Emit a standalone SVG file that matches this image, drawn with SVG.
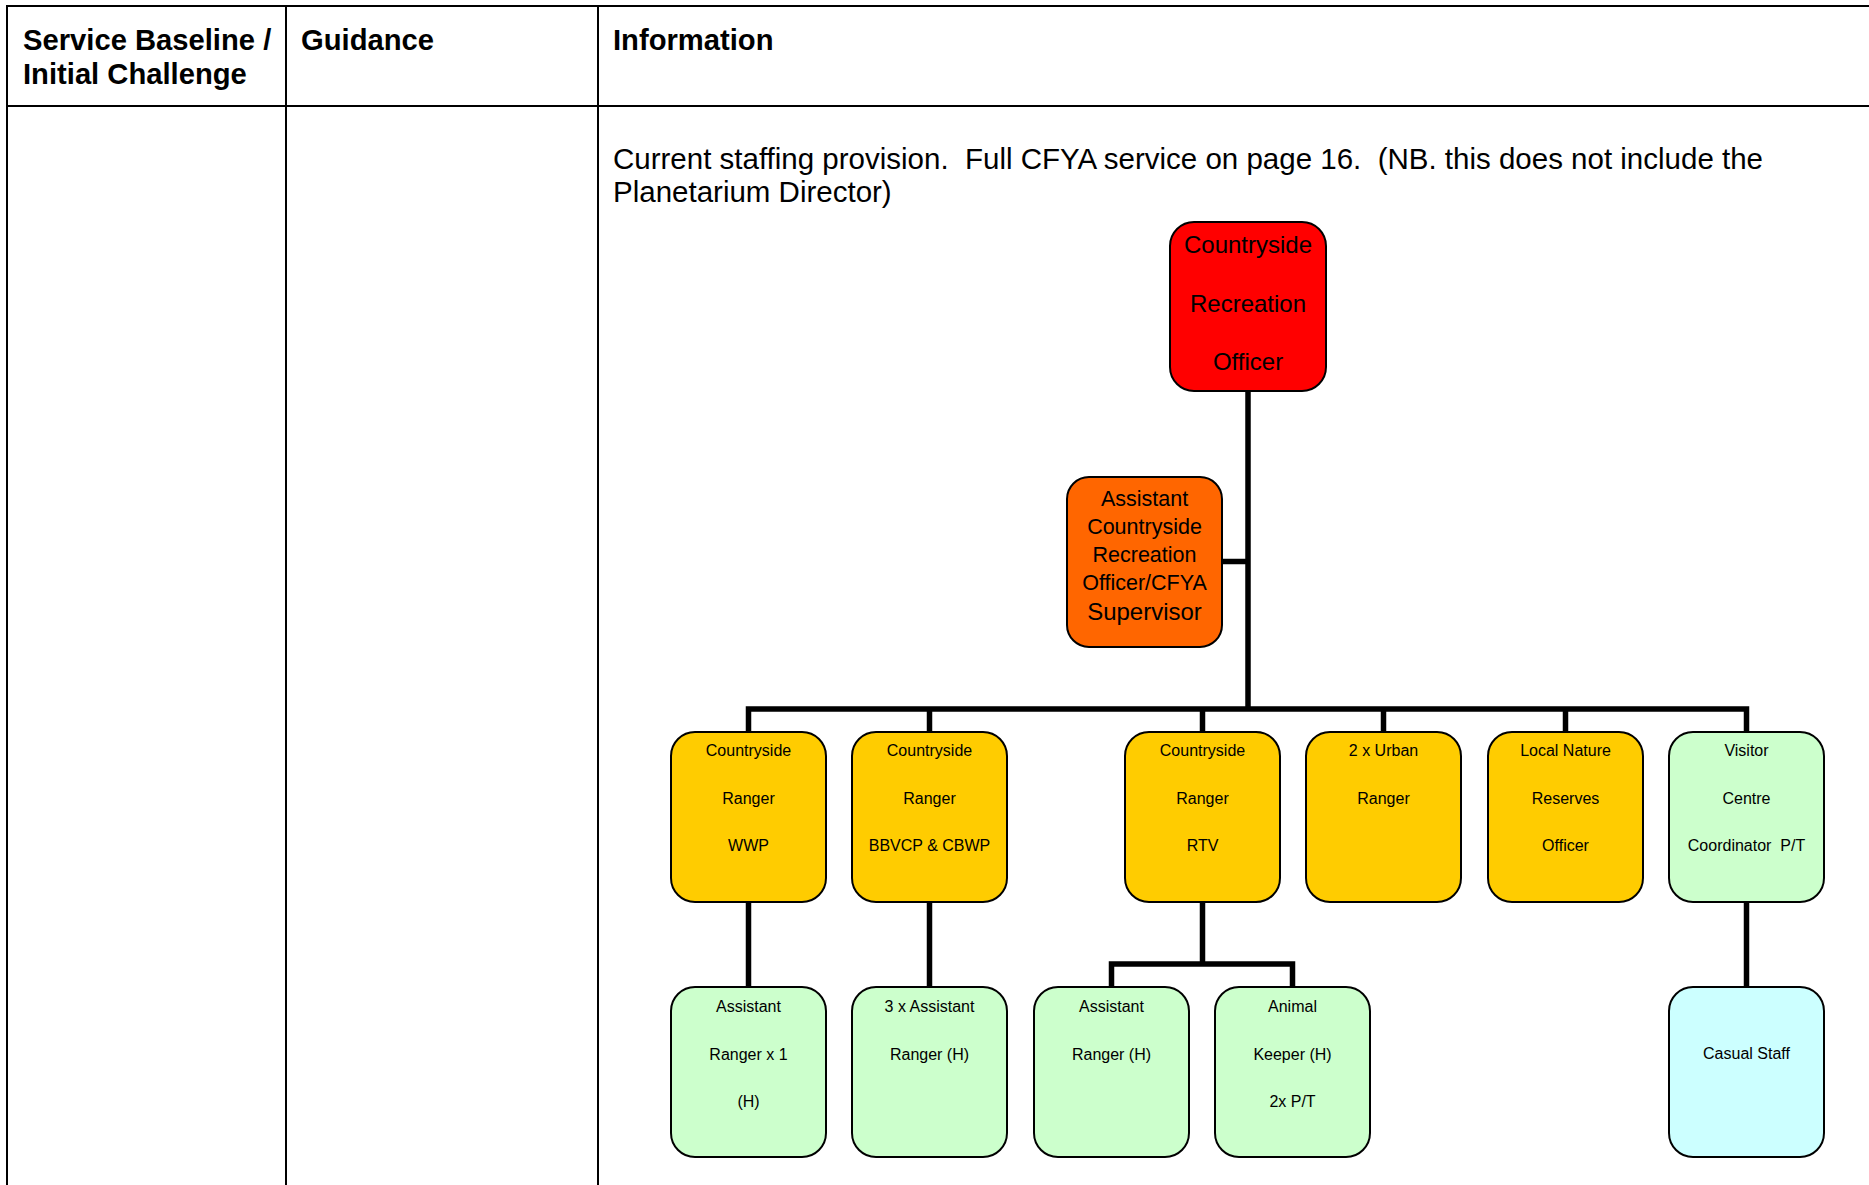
<svg xmlns="http://www.w3.org/2000/svg" width="1869" height="1185" viewBox="0 0 1869 1185">
<style>
.tbl{stroke:#000;stroke-width:2;fill:none}
.hdr{font-family:"Liberation Sans",Arial,sans-serif;font-weight:bold;font-size:29.2px;fill:#000}
.info{font-family:"Liberation Sans",Arial,sans-serif;font-size:29.5px;fill:#000;white-space:pre}
.box{stroke:#000;stroke-width:2}
.red{fill:#FF0000}
.orange{fill:#FF6600}
.yellow{fill:#FFCC00}
.green{fill:#CCFFCC}
.cyan{fill:#CCFFFF}
.t24{font-family:"Liberation Sans",Arial,sans-serif;font-size:24px;fill:#000;text-anchor:middle}
.t21{font-family:"Liberation Sans",Arial,sans-serif;font-size:21.5px;fill:#000;text-anchor:middle}
.t16{font-family:"Liberation Sans",Arial,sans-serif;font-size:16px;fill:#000;text-anchor:middle;white-space:pre}
.conn{stroke:#000;stroke-width:5.5;fill:none;stroke-linejoin:miter;stroke-linecap:butt}
</style>
<rect x="0" y="0" width="1869" height="1185" fill="#fff"/>
<g id="table">
<line class="tbl" x1="7" y1="6" x2="1869" y2="6"/>
<line class="tbl" x1="7" y1="5" x2="7" y2="1185"/>
<line class="tbl" x1="286" y1="6" x2="286" y2="1185"/>
<line class="tbl" x1="598" y1="6" x2="598" y2="1185"/>
<line class="tbl" x1="7" y1="106" x2="1869" y2="106"/>
<text class="hdr" x="23" y="50">Service Baseline /</text>
<text class="hdr" x="23" y="84">Initial Challenge</text>
<text class="hdr" x="301" y="50">Guidance</text>
<text class="hdr" x="613" y="50">Information</text>
<text class="info" x="613" y="169">Current staffing provision.  Full CFYA service on page 16.  (NB. this does not include the</text>
<text class="info" x="613" y="202">Planetarium Director)</text>
</g>
<g id="connectors">
<path class="conn" d="M1248 391 V709"/>
<path class="conn" d="M1222 561.5 H1248"/>
<path class="conn" d="M748.5 732 V709 H1746.5 V732"/>
<path class="conn" d="M929.5 709 V732"/>
<path class="conn" d="M1202.5 709 V732"/>
<path class="conn" d="M1383.5 709 V732"/>
<path class="conn" d="M1565.5 709 V732"/>
<path class="conn" d="M748.5 902 V987"/>
<path class="conn" d="M929.5 902 V987"/>
<path class="conn" d="M1746.5 902 V987"/>
<path class="conn" d="M1202.5 902 V964"/>
<path class="conn" d="M1111.5 987 V964 H1292.5 V987"/>
</g>
<g id="n-cro">
<rect class="box red" x="1170" y="222" width="156" height="169" rx="24"/>
<text class="t24" x="1248" y="253">Countryside</text>
<text class="t24" x="1248" y="312">Recreation</text>
<text class="t24" x="1248" y="370">Officer</text>
</g>
<g id="n-acro">
<rect class="box orange" x="1067" y="477" width="155" height="170" rx="22"/>
<text class="t21" x="1144.5" y="506">Assistant</text>
<text class="t21" x="1144.5" y="534">Countryside</text>
<text class="t21" x="1144.5" y="562">Recreation</text>
<text class="t21" x="1144.5" y="590">Officer/CFYA</text>
<text class="t24" x="1144.5" y="620">Supervisor</text>
</g>
<g id="n-cr-wwp">
<rect class="box yellow" x="671" y="732" width="155" height="170" rx="24"/>
<text class="t16" x="748.5" y="756">Countryside</text>
<text class="t16" x="748.5" y="804">Ranger</text>
<text class="t16" x="748.5" y="851">WWP</text>
</g>
<g id="n-cr-bbvcp">
<rect class="box yellow" x="852" y="732" width="155" height="170" rx="24"/>
<text class="t16" x="929.5" y="756">Countryside</text>
<text class="t16" x="929.5" y="804">Ranger</text>
<text class="t16" x="929.5" y="851">BBVCP &amp; CBWP</text>
</g>
<g id="n-cr-rtv">
<rect class="box yellow" x="1125" y="732" width="155" height="170" rx="24"/>
<text class="t16" x="1202.5" y="756">Countryside</text>
<text class="t16" x="1202.5" y="804">Ranger</text>
<text class="t16" x="1202.5" y="851">RTV</text>
</g>
<g id="n-urban">
<rect class="box yellow" x="1306" y="732" width="155" height="170" rx="24"/>
<text class="t16" x="1383.5" y="756">2 x Urban</text>
<text class="t16" x="1383.5" y="804">Ranger</text>
</g>
<g id="n-lnr">
<rect class="box yellow" x="1488" y="732" width="155" height="170" rx="24"/>
<text class="t16" x="1565.5" y="756">Local Nature</text>
<text class="t16" x="1565.5" y="804">Reserves</text>
<text class="t16" x="1565.5" y="851">Officer</text>
</g>
<g id="n-visitor">
<rect class="box green" x="1669" y="732" width="155" height="170" rx="24"/>
<text class="t16" x="1746.5" y="756">Visitor</text>
<text class="t16" x="1746.5" y="804">Centre</text>
<text class="t16" x="1746.5" y="851">Coordinator  P/T</text>
</g>
<g id="n-ar1">
<rect class="box green" x="671" y="987" width="155" height="170" rx="24"/>
<text class="t16" x="748.5" y="1012">Assistant</text>
<text class="t16" x="748.5" y="1060">Ranger x 1</text>
<text class="t16" x="748.5" y="1107">(H)</text>
</g>
<g id="n-ar3">
<rect class="box green" x="852" y="987" width="155" height="170" rx="24"/>
<text class="t16" x="929.5" y="1012">3 x Assistant</text>
<text class="t16" x="929.5" y="1060">Ranger (H)</text>
</g>
<g id="n-ar-rtv">
<rect class="box green" x="1034" y="987" width="155" height="170" rx="24"/>
<text class="t16" x="1111.5" y="1012">Assistant</text>
<text class="t16" x="1111.5" y="1060">Ranger (H)</text>
</g>
<g id="n-animal">
<rect class="box green" x="1215" y="987" width="155" height="170" rx="24"/>
<text class="t16" x="1292.5" y="1012">Animal</text>
<text class="t16" x="1292.5" y="1060">Keeper (H)</text>
<text class="t16" x="1292.5" y="1107">2x P/T</text>
</g>
<g id="n-casual">
<rect class="box cyan" x="1669" y="987" width="155" height="170" rx="24"/>
<text class="t16" x="1746.5" y="1059">Casual Staff</text>
</g>
</svg>
